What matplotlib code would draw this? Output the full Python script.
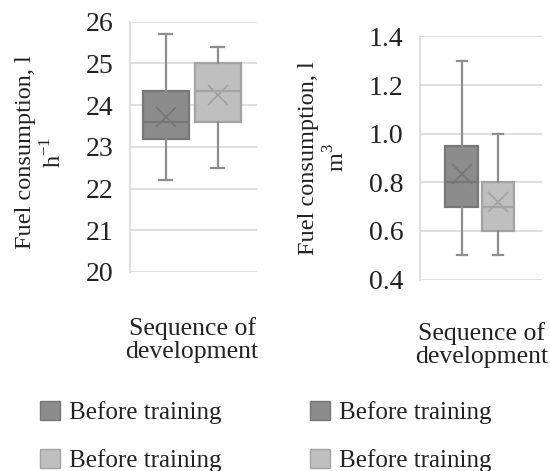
import matplotlib

matplotlib.use("Agg")
import matplotlib.pyplot as plt
from matplotlib.patches import Patch

plt.rcParams["font.family"] = ["Liberation Serif", "DejaVu Serif"]
plt.rcParams["mathtext.fontset"] = "custom"
plt.rcParams["mathtext.rm"] = "Liberation Serif"

# 왼쪽: 시간당 연료 소비 (l h-1)
hour_low = [22.2, 22.5]
hour_q1 = [23.2, 23.6]
hour_med = [23.6, 24.35]
hour_mean = [23.72, 24.24]
hour_q3 = [24.35, 25.0]
hour_high = [25.7, 25.4]
hour_ticks = [20, 21, 22, 23, 24, 25, 26]

# 오른쪽: m3당 연료 소비 (l m-3)
vol_low = [0.5, 0.5]
vol_q1 = [0.7, 0.6]
vol_med = [0.8, 0.7]
vol_mean = [0.835, 0.72]
vol_q3 = [0.95, 0.8]
vol_high = [1.3, 1.0]
vol_ticks = [0.4, 0.6, 0.8, 1.0, 1.2, 1.4]

labels = ["Before training", "Before training"]
face = ["#8c8c8c", "#bfbfbf"]
edge = ["#777777", "#a3a3a3"]
line = "#8e8e8e"
ink = "#222222"


def stats(low, q1, med, mean, q3, high):
    return [dict(whislo=a, q1=b, med=c, mean=d, q3=e, whishi=f, fliers=[])
            for a, b, c, d, e, f in zip(low, q1, med, mean, q3, high)]


def draw(ax, st, ticks, fmt, xlim, cap):
    for i, s in enumerate(st):
        ax.bxp([s], positions=[i + 1], widths=0.9, capwidths=[cap],
               patch_artist=True, showmeans=True, showfliers=False,
               boxprops=dict(facecolor=face[i], edgecolor=edge[i], linewidth=1.6),
               medianprops=dict(color=edge[i], linewidth=1.6),
               whiskerprops=dict(color=line, linewidth=1.6),
               capprops=dict(color=line, linewidth=1.6),
               meanprops=dict(marker="x", markersize=15, markeredgewidth=1.3,
                              markeredgecolor=edge[i]),
               zorder=3)
    ax.set_xlim(*xlim)
    ax.set_ylim(ticks[0], ticks[-1])
    ax.set_yticks(ticks)
    ax.set_yticklabels([fmt.format(t) for t in ticks])
    ax.set_xticks([])
    ax.grid(axis="y", color="#d9d9d9", linewidth=1.2, zorder=0)
    ax.set_axisbelow(True)
    for k in ["top", "right", "bottom"]:
        ax.spines[k].set_visible(False)
    ax.spines["left"].set_color("#d9d9d9")
    ax.spines["left"].set_linewidth(1.2)
    ax.tick_params(axis="y", length=0, pad=12, labelsize=20, colors=ink)


fig = plt.figure(figsize=(5.5, 4.71), dpi=100)
ax1 = fig.add_axes([130 / 550, 1 - 272 / 471, 127 / 550, 250.3 / 471])
ax2 = fig.add_axes([420 / 550, 1 - 279.6 / 471, 122 / 550, 243.2 / 471])

draw(ax1, stats(hour_low, hour_q1, hour_med, hour_mean, hour_q3, hour_high),
     hour_ticks, "{:.0f}", (0.308, 2.75), 0.25)
draw(ax2, stats(vol_low, vol_q1, vol_med, vol_mean, vol_q3, vol_high),
     vol_ticks, "{:.1f}", (-0.158, 3.23), 0.28)

fig.text(41 / 550, 1 - 152 / 471, "Fuel consumption, l\nh$^{\\mathregular{-1}}$",
         rotation=90, ha="center", va="center", multialignment="center",
         fontsize=17.5, color=ink, linespacing=1.25)
fig.text(324 / 550, 1 - 158 / 471, "Fuel consumption, l\nm$^{\\mathregular{3}}$",
         rotation=90, ha="center", va="center", multialignment="center",
         fontsize=17.5, color=ink, linespacing=1.25)
fig.text(192 / 550, 1 - 340 / 471, "Sequence of\ndevelopment", ha="center",
         va="center", fontsize=18.5, color=ink, linespacing=1.05)
fig.text(482 / 550, 1 - 345 / 471, "Sequence of\ndevelopment", ha="center",
         va="center", fontsize=18.5, color=ink, linespacing=1.05)

for x0 in [40, 310]:
    handles = [Patch(facecolor=face[i], edgecolor=edge[i], linewidth=1.0)
               for i in range(2)]
    fig.legend(handles, labels, loc="upper left",
               bbox_to_anchor=(x0 / 550, 1 - 401 / 471), frameon=False,
               fontsize=18, handlelength=0.8, handleheight=0.8,
               handletextpad=0.35, labelspacing=1.0, borderpad=0,
               borderaxespad=0, labelcolor=ink)

fig.savefig("out.png", dpi=100)
